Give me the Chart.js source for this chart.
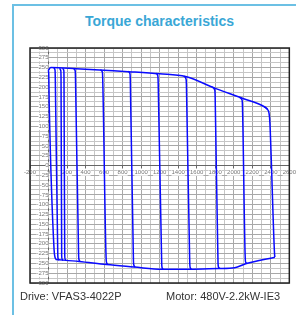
<!DOCTYPE html>
<html>
<head>
<meta charset="utf-8">
<script src="https://cdn.jsdelivr.net/npm/chart.js@4"></script>
<style>
  html, body { margin: 0; padding: 0; background: #fff; width: 296px; height: 315px; overflow: hidden; }
  .card { position: absolute; left: 12px; top: 4px; width: 300px; height: 330px; border-left: 2px solid #6cc0e4; border-top: 2px solid #6cc0e4; }
  .title { position: absolute; left: 12px; top: 13px; width: 295px; text-align: center; font: bold 14px "Liberation Sans", Arial, sans-serif; color: #3aa7d6; }
  .foot { position: absolute; top: 290px; font: 11px "Liberation Sans", Arial, sans-serif; color: #333; }
  #wrap { position: absolute; left: 0; top: 0; width: 296px; height: 315px; }
</style>
</head>
<body>
<div class="card"></div>
<div class="title">Torque characteristics</div>
<div id="wrap"><canvas id="chart"></canvas></div>
<div class="foot" style="left:20px">Drive: VFAS3-4022P</div>
<div class="foot" style="left:166px">Motor: 480V-2.2kW-IE3</div>
<script>
// speed (min-1) / torque (%) points
const topEnvelope = [[-3, 243], [25, 250], [300, 247], [600, 243], [900, 239], [1200, 234], [1480, 227], [1800, 197], [2100, 171], [2330, 150], [2365, 143]];
const bottomEnvelope = [[78, -240], [330, -245], [627, -253], [921, -259], [1226, -265], [1530, -265], [1835, -263], [2010, -261], [2129, -251], [2444, -234]];

const curve1 = [[-3, 243], [2, 236], [8, 150], [60, -215], [72, -236], [80, -240]];
const curve3 = [[55, 249], [70, 244], [73, 225], [100, -228], [104, -238], [112, -242]];
const curve5 = [[118, 248], [132, 243], [135, 225], [142, -230], [146, -239], [156, -243]];
const curve6 = [[150, 248], [165, 243], [167, 225], [175, -230], [179, -239], [188, -243]];
const curve10 = [[270, 247], [288, 242], [291, 225], [325, -230], [329, -240], [340, -245]];
const curve20 = [[560, 244], [582, 238], [585, 222], [622, -238], [627, -248], [640, -253]];
const curve30 = [[860, 240], [880, 234], [883, 218], [917, -244], [921, -254], [935, -259]];
const curve40 = [[1160, 235], [1180, 229], [1184, 212], [1222, -250], [1226, -261], [1240, -265]];
const curve50 = [[1460, 228], [1485, 221], [1489, 205], [1525, -250], [1530, -261], [1545, -265]];
const curve60 = [[1765, 200], [1795, 193], [1799, 178], [1830, -248], [1835, -259], [1850, -263]];
const curve70 = [[2060, 174], [2090, 167], [2094, 152], [2124, -237], [2129, -247], [2145, -250]];
const curve80 = [[2330, 150], [2365, 143], [2382, 132], [2390, 110], [2440, -224], [2444, -234]];

const allCurves = [topEnvelope, bottomEnvelope, curve1, curve3, curve5, curve6, curve10, curve20, curve30, curve40, curve50, curve60, curve70, curve80];

const xTicks = { min: -200, max: 2600, step: 200, gridStep: 100 };
const yTicks = { min: -300, max: 300, step: 25, gridStep: 12.5 };

const frame = {
    id: 'frame',
    afterDraw(chart) {
        const a = chart.chartArea, c = chart.ctx;
        c.save();
        c.strokeStyle = '#222';
        c.lineWidth = 1.5;
        c.strokeRect(a.left, a.top, a.right - a.left, a.bottom - a.top);
        c.restore();
    }
};

const tickFont = { family: 'Liberation Sans', size: 6 };
const plain = v => String(v);

new Chart(document.getElementById('chart'), {
    type: 'scatter',
    data: {
        datasets: allCurves.map(pts => ({
            data: pts.map(p => ({ x: p[0], y: p[1] })),
            showLine: true,
            borderColor: '#0a0aff',
            borderWidth: 1.5,
            pointRadius: 0,
            cubicInterpolationMode: 'monotone'
        }))
    },
    options: {
        responsive: true,
        maintainAspectRatio: false,
        animation: false,
        layout: { padding: { left: 30, top: 48, right: 5, bottom: 32 } },
        plugins: { legend: { display: false }, tooltip: { enabled: false } },
        scales: {
            xg: {
                type: 'linear', position: 'bottom', min: xTicks.min, max: xTicks.max,
                ticks: { display: false, stepSize: xTicks.gridStep },
                border: { display: false },
                grid: { drawTicks: false, color: c => c.tick.value % 200 === 0 ? '#a8a8a8' : '#c6c6c6' }
            },
            yg: {
                type: 'linear', position: 'left', min: yTicks.min, max: yTicks.max,
                ticks: { display: false, stepSize: yTicks.gridStep },
                border: { display: false },
                grid: { drawTicks: false, color: c => c.tick.value % 25 === 0 ? '#a8a8a8' : '#c6c6c6' }
            },
            x: {
                type: 'linear', position: { y: 0 }, min: xTicks.min, max: xTicks.max,
                ticks: { stepSize: xTicks.step, font: tickFont, color: '#777', padding: 0, maxRotation: 0, autoSkip: false,
                         callback: plain, showLabelBackdrop: true, backdropColor: '#fff', backdropPadding: 0 },
                border: { color: '#666', width: 1 },
                grid: { drawOnChartArea: false, tickLength: 3, color: '#666' }
            },
            y: {
                type: 'linear', position: { x: 0 }, min: yTicks.min, max: yTicks.max,
                ticks: { stepSize: yTicks.step, font: tickFont, color: '#777', padding: 0, autoSkip: false,
                         callback: plain, showLabelBackdrop: true, backdropColor: '#fff', backdropPadding: 0 },
                border: { color: '#666', width: 1 },
                grid: { drawOnChartArea: false, tickLength: 3, color: '#666' }
            }
        }
    },
    plugins: [frame]
});
</script>
</body>
</html>
